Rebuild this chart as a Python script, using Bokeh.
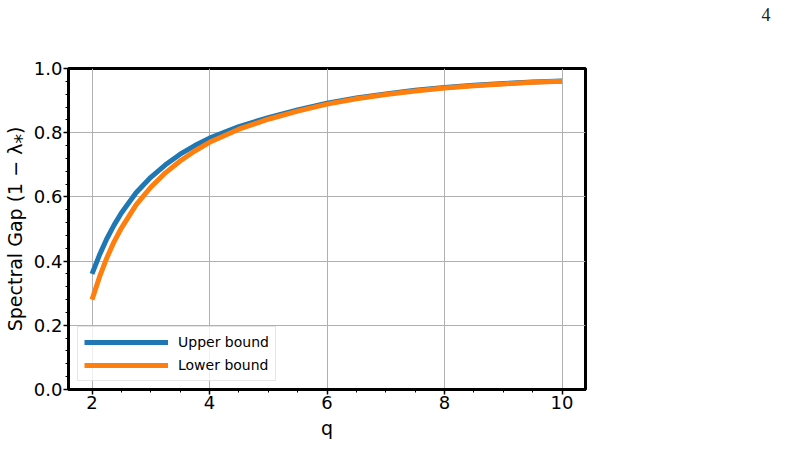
from bokeh.plotting import figure
from bokeh.models import Range1d, FixedTicker, Title
from bokeh.embed import file_html
from bokeh.resources import INLINE

# Data
q_values = [2.0, 2.125, 2.25, 2.375, 2.5, 2.75, 3.0, 3.25, 3.5, 3.75, 4.0, 4.5,
            5.0, 5.5, 6.0, 6.5, 7.0, 7.5, 8.0, 8.5, 9.0, 9.5, 10.0]
upper_bound = [0.360, 0.418, 0.469, 0.512, 0.550, 0.613, 0.661, 0.700, 0.733, 0.760,
               0.783, 0.819, 0.847, 0.871, 0.892, 0.908, 0.921, 0.932, 0.941, 0.948,
               0.953, 0.958, 0.961]
lower_bound = [0.280, 0.349, 0.409, 0.460, 0.503, 0.575, 0.630, 0.675, 0.712, 0.743,
               0.770, 0.811, 0.842, 0.867, 0.889, 0.906, 0.919, 0.930, 0.939, 0.946,
               0.952, 0.957, 0.960]
x_ticks = [2, 4, 6, 8, 10]
x_minor = [2.5, 3, 3.5, 4.5, 5, 5.5, 6.5, 7, 7.5, 8.5, 9, 9.5]
y_ticks = [0.0, 0.2, 0.4, 0.6, 0.8, 1.0]
y_minor = [round(0.04 * i, 2) for i in range(26) if i % 5 != 0]
series_labels = ["Upper bound", "Lower bound"]
page_number = "4"

FONT = "DejaVu Sans"

p = figure(width=794, height=441, output_backend="svg", toolbar_location=None,
           x_range=Range1d(1.6, 10.4), y_range=Range1d(0.0, 1.0),
           min_border_left=68, min_border_right=209, min_border_top=68,
           min_border_bottom=52)

p.background_fill_color = "white"
p.border_fill_color = "white"
p.outline_line_color = "black"
p.outline_line_width = 3

p.line(q_values, upper_bound, line_color="#1f77b4", line_width=5,
       legend_label=series_labels[0])
p.line(q_values, lower_bound, line_color="#ff7f0e", line_width=5,
       legend_label=series_labels[1])

p.xaxis.ticker = FixedTicker(ticks=x_ticks, minor_ticks=x_minor)
p.yaxis.ticker = FixedTicker(ticks=y_ticks, minor_ticks=y_minor)
p.yaxis.major_label_overrides = {v: f"{v:.1f}" for v in y_ticks}

p.xaxis.axis_label = "q"
p.yaxis.axis_label = "Spectral Gap (1 \u2212 \u03bb\u204e)"

for ax in (p.xaxis[0], p.yaxis[0]):
    ax.axis_line_color = "black"
    ax.axis_line_width = 3
    ax.major_tick_line_color = "black"
    ax.major_tick_line_width = 1.5
    ax.major_tick_out = 5
    ax.major_tick_in = 0
    ax.minor_tick_line_color = "black"
    ax.minor_tick_line_width = 1
    ax.minor_tick_out = 3
    ax.minor_tick_in = 0
    ax.major_label_text_font = FONT
    ax.major_label_text_font_size = "18px"
    ax.major_label_text_color = "black"
    ax.major_label_standoff = 1
    ax.axis_label_text_font = FONT
    ax.axis_label_text_font_size = "19px"
    ax.axis_label_text_font_style = "normal"
    ax.axis_label_text_color = "black"
    ax.axis_label_standoff = 5

p.xgrid.grid_line_color = "#b0b0b0"
p.ygrid.grid_line_color = "#b0b0b0"
p.xgrid.grid_line_width = 1
p.ygrid.grid_line_width = 1

leg = p.legend[0]
leg.location = (9, 8)
leg.label_text_font = FONT
leg.label_text_font_size = "14px"
leg.label_text_color = "black"
leg.glyph_width = 84
leg.glyph_height = 18
leg.label_height = 18
leg.label_standoff = 10
leg.spacing = 5
leg.padding = 6
leg.margin = 0
leg.border_line_color = "#cccccc"
leg.border_line_width = 1
leg.background_fill_color = "white"
leg.background_fill_alpha = 0.8

# empty spacer title (nearest the frame) lifts the page number up
spacer = Title(text="\u00a0", text_font_size="28px", standoff=10)
p.add_layout(spacer, "above")

page_title = Title(text=page_number, align="left", offset=693,
                   text_font="Liberation Serif", text_font_size="18px",
                   text_font_style="normal", text_color="#222222")
p.add_layout(page_title, "above")

open("out.html", "w").write(file_html(p, INLINE))
